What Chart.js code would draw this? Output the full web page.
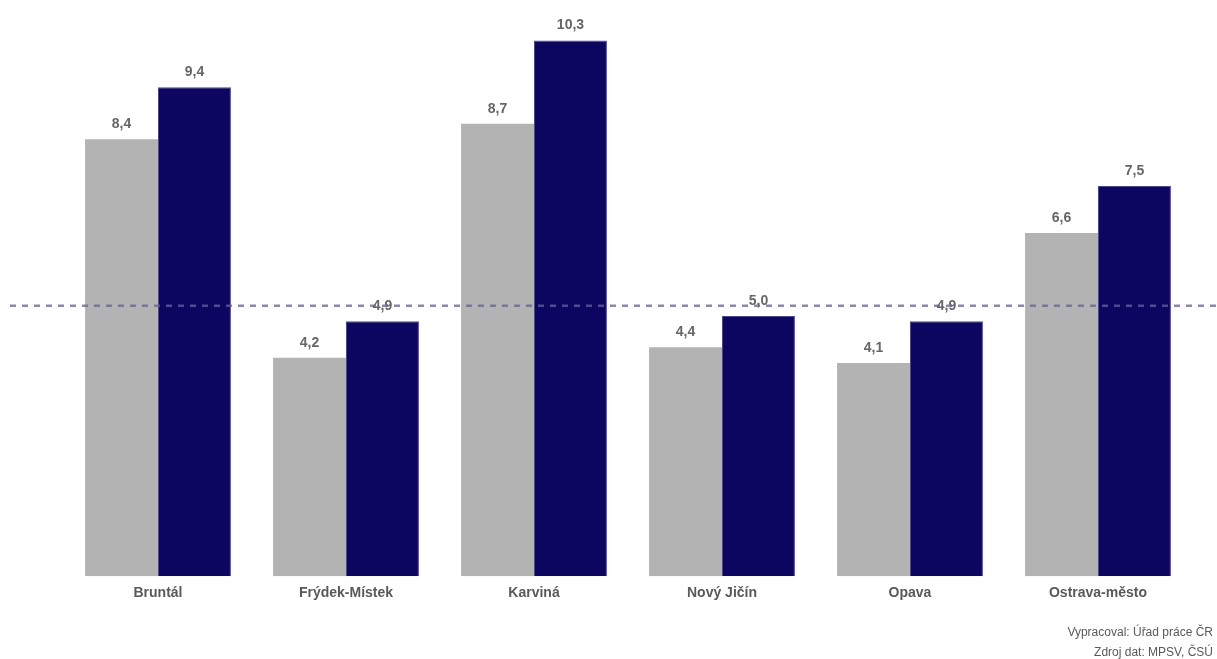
<!DOCTYPE html>
<html lang="cs">
<head>
<meta charset="utf-8">
<script src="https://cdn.jsdelivr.net/npm/chart.js@4/dist/chart.umd.min.js"></script>
<style>
    html, body { margin: 0; padding: 0; background: #fff; }
    .chart-container { position: relative; width: 1217px; height: 659px; }
    .footer {
        position: absolute;
        right: 4px;
        top: 622px;
        text-align: right;
        font: 12px/20px "Liberation Sans", Arial, sans-serif;
        color: #595959;
    }
</style>
</head>
<body>
<div class="chart-container">
    <canvas id="bar-chart"></canvas>
    <div class="footer" id="footer"></div>
</div>
<script>
const categories = ["Bruntál", "Frýdek-Místek", "Karviná", "Nový Jičín", "Opava", "Ostrava-město"];
const seriesGray = [8.4, 4.2, 8.7, 4.4, 4.1, 6.6];
const seriesNavy = [9.4, 4.9, 10.3, 5.0, 4.9, 7.5];
const averageLine = 5.2;
const footerLines = ["Vypracoval: Úřad práce ČR", "Zdroj dat: MPSV, ČSÚ"];

const fmt = (v) => v.toFixed(1).replace(".", ",");

document.getElementById("footer").innerHTML = footerLines.join("<br>");

// value labels above bars
const valueLabels = {
    id: "valueLabels",
    afterDatasetsDraw(chart) {
        const { ctx } = chart;
        ctx.save();
        ctx.font = "bold 14px 'Liberation Sans', Arial, sans-serif";
        ctx.fillStyle = "#666666";
        ctx.textAlign = "center";
        ctx.textBaseline = "bottom";
        chart.data.datasets.forEach((ds, i) => {
            chart.getDatasetMeta(i).data.forEach((bar, j) => {
                ctx.fillText(fmt(ds.data[j]), bar.x, bar.y - 8);
            });
        });
        ctx.restore();
    },
};

// dashed average line across the whole width
const avgLine = {
    id: "avgLine",
    afterDraw(chart) {
        const { ctx } = chart;
        const y = chart.scales.y.getPixelForValue(averageLine);
        ctx.save();
        ctx.strokeStyle = "rgba(100, 98, 155, 0.75)";
        ctx.lineWidth = 2.5;
        ctx.setLineDash([6, 6]);
        ctx.beginPath();
        ctx.moveTo(10, y);
        ctx.lineTo(chart.width, y);
        ctx.stroke();
        ctx.restore();
    },
};

const ctx = document.getElementById("bar-chart").getContext("2d");

new Chart(ctx, {
    type: "bar",
    data: {
        labels: categories,
        datasets: [
            { data: seriesGray, backgroundColor: "#b3b3b3", borderWidth: 0 },
            { data: seriesNavy, backgroundColor: "#0d0660", borderColor: "#4a47a0", borderWidth: 1 },
        ],
    },
    options: {
        responsive: true,
        maintainAspectRatio: false,
        animation: false,
        layout: { padding: { left: 64, right: 25, top: 4, bottom: 48 } },
        categoryPercentage: 0.776,
        barPercentage: 1,
        plugins: {
            legend: { display: false },
            tooltip: { enabled: false },
        },
        scales: {
            x: {
                grid: { display: false, drawTicks: false },
                border: { display: false },
                ticks: {
                    color: "#595959",
                    padding: 9,
                    font: { family: "'Liberation Sans', Arial, sans-serif", size: 14, weight: "bold" },
                },
            },
            y: {
                display: false,
                min: 0,
                max: 11,
            },
        },
    },
    plugins: [valueLabels, avgLine],
});
</script>
</body>
</html>
